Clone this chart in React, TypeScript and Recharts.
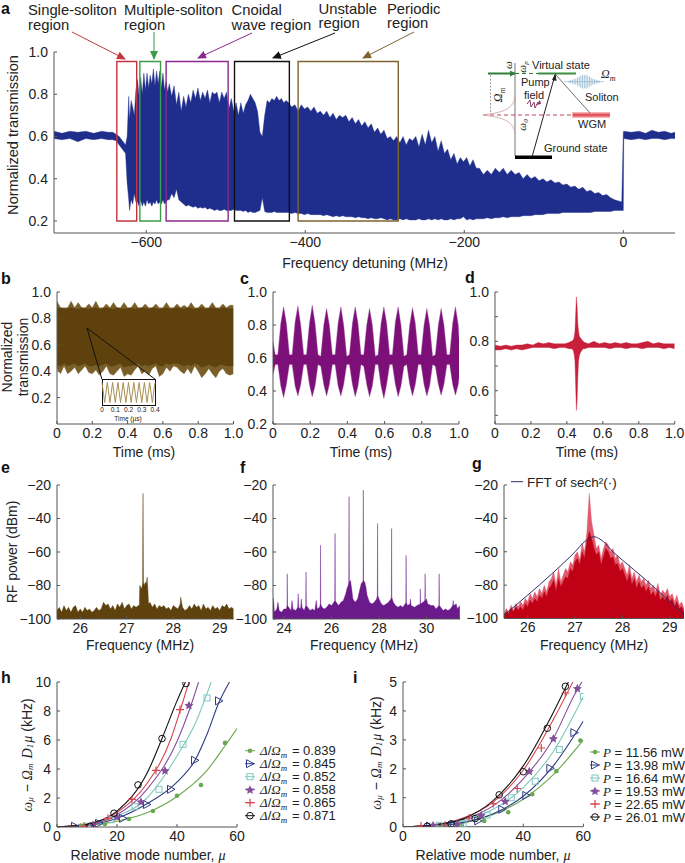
import React from 'react'
import { ComposedChart, Area, Line, Scatter, XAxis, YAxis, ReferenceArea } from 'recharts'

const FONT = '"Liberation Sans", Arial, sans-serif'
const SERIF = '"Liberation Serif", serif'

// panel a
const aFreq = [
  -716, -706, -696, -686, -676, -666, -656, -648, -642, -638,
  -634, -630, -626, -624, -622, -621, -619, -617, -615, -613,
  -611, -609, -607, -605, -603, -601, -599, -597, -595, -593,
  -591, -589, -587, -585, -583, -581, -579, -577, -575, -573,
  -571, -568, -565, -562, -559, -556, -553, -550, -547, -544,
  -541, -538, -535, -532, -529, -526, -523, -520, -517, -514,
  -511, -508, -505, -502, -499, -496, -493, -490, -487, -484,
  -481, -478, -475, -472, -469, -466, -463, -460, -457, -454,
  -451, -448, -445, -442, -439, -436, -433, -430, -427, -424,
  -421, -417, -413, -409, -405, -401, -397, -393, -389, -385,
  -381, -377, -373, -369, -365, -361, -357, -353, -349, -345,
  -341, -337, -333, -329, -325, -321, -317, -313, -309, -305,
  -301, -297, -293, -289, -285, -281, -277, -273, -269, -265,
  -261, -257, -253, -249, -245, -241, -237, -233, -229, -225,
  -221, -217, -213, -209, -205, -201, -197, -193, -189, -185,
  -181, -176, -171, -166, -161, -156, -151, -146, -141, -136,
  -131, -126, -121, -116, -111, -106, -101, -96, -91, -86,
  -81, -76, -71, -66, -61, -56, -51, -46, -41, -36,
  -31, -26, -21, -16, -11, -6, -2, 0, 0.5, 10,
  20, 28, 36, 44, 52, 60, 65,
]
const aHigh = [
  0.625, 0.615, 0.625, 0.62, 0.625, 0.615, 0.625, 0.62, 0.62, 0.61,
  0.6, 0.58, 0.56, 0.6, 0.79, 0.68, 0.77, 0.74, 0.7, 0.82,
  0.87, 0.79, 0.88, 0.8, 0.9, 0.82, 0.9, 0.83, 0.89, 0.85,
  0.92, 0.84, 0.91, 0.85, 0.91, 0.83, 0.9, 0.82, 0.86, 0.81,
  0.85, 0.79, 0.84, 0.75, 0.81, 0.72, 0.79, 0.74, 0.8, 0.76,
  0.82, 0.78, 0.83, 0.77, 0.81, 0.78, 0.82, 0.76, 0.81, 0.8,
  0.81, 0.76, 0.81, 0.78, 0.81, 0.73, 0.78, 0.72, 0.76, 0.7,
  0.76, 0.71, 0.75, 0.77, 0.8, 0.78, 0.76, 0.72, 0.62, 0.6,
  0.7, 0.77, 0.76, 0.78, 0.77, 0.79, 0.77, 0.78, 0.76, 0.77,
  0.76, 0.74, 0.75, 0.72, 0.75, 0.73, 0.74, 0.72, 0.74, 0.71,
  0.72, 0.7, 0.72, 0.69, 0.71, 0.68, 0.7, 0.69, 0.7, 0.67,
  0.69, 0.66, 0.68, 0.65, 0.67, 0.64, 0.66, 0.62, 0.64, 0.61,
  0.63, 0.59, 0.6, 0.58, 0.6, 0.57, 0.6, 0.56, 0.59, 0.58,
  0.6, 0.55, 0.61, 0.56, 0.63, 0.57, 0.6, 0.53, 0.58, 0.52,
  0.54, 0.49, 0.52, 0.47, 0.5, 0.48, 0.5, 0.46, 0.49, 0.45,
  0.45, 0.42, 0.44, 0.42, 0.45, 0.43, 0.45, 0.42, 0.44, 0.42,
  0.43, 0.4, 0.42, 0.4, 0.41, 0.39, 0.4, 0.385, 0.395, 0.38,
  0.385, 0.37, 0.375, 0.36, 0.365, 0.35, 0.36, 0.34, 0.345, 0.33,
  0.335, 0.32, 0.325, 0.31, 0.3, 0.295, 0.29, 0.62, 0.625, 0.62,
  0.625, 0.615, 0.63, 0.62, 0.625, 0.615, 0.62,
]
const aLow = [
  0.59, 0.585, 0.59, 0.575, 0.59, 0.585, 0.59, 0.585, 0.585, 0.58,
  0.56, 0.54, 0.52, 0.38, 0.3, 0.25, 0.3, 0.28, 0.33, 0.29,
  0.29, 0.27, 0.3, 0.27, 0.29, 0.27, 0.3, 0.28, 0.29, 0.27,
  0.29, 0.28, 0.3, 0.28, 0.29, 0.28, 0.3, 0.28, 0.29, 0.3,
  0.3, 0.33, 0.31, 0.35, 0.3, 0.29, 0.28, 0.27, 0.275, 0.27,
  0.265, 0.27, 0.26, 0.265, 0.26, 0.265, 0.255, 0.26, 0.255, 0.25,
  0.255, 0.25, 0.25, 0.255, 0.25, 0.25, 0.25, 0.255, 0.25, 0.25,
  0.25, 0.245, 0.25, 0.24, 0.245, 0.24, 0.24, 0.245, 0.25, 0.31,
  0.245, 0.24, 0.24, 0.24, 0.245, 0.24, 0.24, 0.24, 0.24, 0.24,
  0.24, 0.235, 0.24, 0.235, 0.235, 0.23, 0.235, 0.23, 0.23, 0.23,
  0.23, 0.225, 0.23, 0.225, 0.22, 0.225, 0.22, 0.225, 0.22, 0.22,
  0.22, 0.215, 0.22, 0.215, 0.215, 0.21, 0.215, 0.21, 0.21, 0.215,
  0.21, 0.205, 0.21, 0.205, 0.205, 0.21, 0.205, 0.21, 0.205, 0.205,
  0.205, 0.21, 0.205, 0.205, 0.21, 0.205, 0.21, 0.205, 0.21, 0.205,
  0.205, 0.21, 0.205, 0.21, 0.21, 0.22, 0.205, 0.21, 0.205, 0.21,
  0.21, 0.21, 0.215, 0.21, 0.215, 0.215, 0.22, 0.215, 0.22, 0.22,
  0.22, 0.225, 0.225, 0.225, 0.23, 0.23, 0.23, 0.235, 0.235, 0.235,
  0.235, 0.24, 0.24, 0.24, 0.24, 0.24, 0.24, 0.24, 0.24, 0.245,
  0.245, 0.245, 0.245, 0.245, 0.25, 0.25, 0.25, 0.25, 0.59, 0.585,
  0.59, 0.585, 0.59, 0.59, 0.585, 0.59, 0.59,
]
const aRegions = [
  { from: -637, to: -612, color: '#c5343c' },
  { from: -608, to: -582, color: '#3f9a4a' },
  { from: -575, to: -497, color: '#8a2a8c' },
  { from: -489, to: -420, color: '#111111' },
  { from: -409, to: -283, color: '#7d6430' },
]

// panel b
const bTime = [
  0, 0.02, 0.04, 0.06, 0.08, 0.1, 0.12, 0.14, 0.16, 0.18,
  0.2, 0.22, 0.24, 0.26, 0.28, 0.3, 0.32, 0.34, 0.36, 0.38,
  0.4, 0.42, 0.44, 0.46, 0.48, 0.5, 0.52, 0.54, 0.56, 0.58,
  0.6, 0.62, 0.64, 0.66, 0.68, 0.7, 0.72, 0.74, 0.76, 0.78,
  0.8, 0.82, 0.84, 0.86, 0.88, 0.9, 0.92, 0.94, 0.96, 0.98,
  1,
]
const bHigh = [
  0.93, 0.88, 0.88, 0.88, 0.93, 0.88, 0.92, 0.88, 0.88, 0.91,
  0.88, 0.93, 0.88, 0.88, 0.91, 0.88, 0.92, 0.88, 0.88, 0.92,
  0.88, 0.88, 0.92, 0.88, 0.88, 0.91, 0.88, 0.88, 0.91, 0.88,
  0.88, 0.92, 0.88, 0.88, 0.91, 0.88, 0.9, 0.88, 0.92, 0.88,
  0.88, 0.91, 0.88, 0.88, 0.92, 0.88, 0.88, 0.91, 0.88, 0.9,
  0.9,
]
const bLow = [
  0.42, 0.38, 0.44, 0.38, 0.4, 0.43, 0.38, 0.41, 0.44, 0.39,
  0.38, 0.41, 0.37, 0.4, 0.44, 0.38, 0.37, 0.4, 0.43, 0.36,
  0.38, 0.37, 0.41, 0.44, 0.38, 0.4, 0.37, 0.42, 0.44, 0.36,
  0.38, 0.43, 0.4, 0.44, 0.43, 0.4, 0.38, 0.42, 0.38, 0.44,
  0.4, 0.35, 0.38, 0.42, 0.38, 0.35, 0.4, 0.42, 0.38, 0.37,
  0.38,
]
const bCoreHigh = [
  0.875, 0.88, 0.87, 0.875, 0.88, 0.875, 0.87, 0.88, 0.875, 0.87,
  0.875, 0.88, 0.87, 0.875, 0.88, 0.875, 0.87, 0.88, 0.875, 0.87,
  0.875, 0.88, 0.87, 0.875, 0.88, 0.875, 0.87, 0.88, 0.875, 0.87,
  0.875, 0.88, 0.87, 0.875, 0.88, 0.875, 0.87, 0.88, 0.875, 0.87,
  0.875, 0.88, 0.87, 0.875, 0.88, 0.875, 0.87, 0.88, 0.875, 0.87,
  0.875,
]
const bCoreLow = [
  0.45, 0.44, 0.46, 0.44, 0.45, 0.46, 0.44, 0.45, 0.46, 0.44,
  0.44, 0.45, 0.44, 0.45, 0.46, 0.44, 0.44, 0.45, 0.46, 0.43,
  0.44, 0.44, 0.45, 0.46, 0.44, 0.45, 0.44, 0.45, 0.46, 0.44,
  0.44, 0.46, 0.45, 0.46, 0.46, 0.45, 0.44, 0.45, 0.44, 0.46,
  0.45, 0.43, 0.44, 0.45, 0.44, 0.43, 0.45, 0.45, 0.44, 0.44,
  0.44,
]
const insetTime = [
  0, 0.02, 0.04, 0.06, 0.08, 0.1, 0.12, 0.14, 0.16, 0.18, 0.2,
  0.22, 0.24, 0.26, 0.28, 0.3, 0.32, 0.34, 0.36, 0.38, 0.4,
]
const insetValue = [
  0.9, 0.1, 0.9, 0.1, 0.9, 0.1, 0.9, 0.1, 0.9, 0.1, 0.9,
  0.1, 0.9, 0.1, 0.9, 0.1, 0.9, 0.1, 0.9, 0.1, 0.9,
]

// panel c
const cTime = [
  0, 0.012,
  0.026, 0.042, 0.057, 0.072, 0.088,
  0.103, 0.119, 0.134, 0.149, 0.165,
  0.18, 0.196, 0.211, 0.226, 0.242,
  0.257, 0.273, 0.288, 0.303, 0.319,
  0.334, 0.35, 0.365, 0.38, 0.396,
  0.411, 0.427, 0.442, 0.457, 0.473,
  0.488, 0.504, 0.519, 0.534, 0.55,
  0.565, 0.581, 0.596, 0.611, 0.627,
  0.642, 0.658, 0.673, 0.688, 0.704,
  0.719, 0.735, 0.75, 0.765, 0.781,
  0.796, 0.812, 0.827, 0.842, 0.858,
  0.873, 0.889, 0.904, 0.919, 0.935,
  0.95, 0.966, 0.981, 0.996, 1,
]
const cHigh = [
  0.7, 0.62,
  0.62, 0.81, 0.91, 0.81, 0.62,
  0.62, 0.82, 0.915, 0.8, 0.62,
  0.62, 0.81, 0.92, 0.81, 0.62,
  0.61, 0.8, 0.9, 0.8, 0.62,
  0.62, 0.81, 0.91, 0.8, 0.61,
  0.62, 0.81, 0.91, 0.81, 0.62,
  0.62, 0.8, 0.9, 0.8, 0.61,
  0.62, 0.81, 0.91, 0.81, 0.62,
  0.62, 0.82, 0.91, 0.8, 0.61,
  0.62, 0.8, 0.905, 0.81, 0.62,
  0.62, 0.8, 0.9, 0.8, 0.61,
  0.62, 0.8, 0.9, 0.8, 0.62,
  0.62, 0.81, 0.91, 0.8, 0.72,
]
const cLow = [
  0.5, 0.56,
  0.56, 0.43, 0.36, 0.44, 0.56,
  0.56, 0.43, 0.37, 0.44, 0.56,
  0.56, 0.44, 0.365, 0.43, 0.56,
  0.55, 0.44, 0.37, 0.44, 0.56,
  0.56, 0.43, 0.37, 0.44, 0.56,
  0.56, 0.44, 0.365, 0.43, 0.56,
  0.55, 0.44, 0.365, 0.43, 0.56,
  0.56, 0.43, 0.355, 0.44, 0.56,
  0.56, 0.44, 0.365, 0.43, 0.55,
  0.56, 0.44, 0.37, 0.44, 0.56,
  0.56, 0.44, 0.37, 0.43, 0.56,
  0.55, 0.44, 0.375, 0.44, 0.56,
  0.56, 0.44, 0.375, 0.44, 0.48,
]

// panel d
const dTime = [
  0, 0.03, 0.06, 0.09, 0.12, 0.15, 0.18, 0.21, 0.24, 0.27,
  0.3, 0.33, 0.36, 0.39, 0.41, 0.425, 0.435, 0.44, 0.445, 0.449,
  0.453, 0.457, 0.461, 0.465, 0.47, 0.48, 0.49, 0.5, 0.52, 0.55,
  0.58, 0.61, 0.64, 0.67, 0.7, 0.73, 0.76, 0.79, 0.82, 0.85,
  0.88, 0.91, 0.94, 0.97, 1,
]
const dHigh = [
  0.785, 0.78, 0.785, 0.78, 0.785, 0.785, 0.79, 0.785, 0.795, 0.79,
  0.795, 0.79, 0.79, 0.79, 0.795, 0.8, 0.805, 0.815, 0.84, 0.91,
  0.98, 0.94, 0.87, 0.84, 0.82, 0.81, 0.8, 0.795, 0.79, 0.8,
  0.79, 0.795, 0.79, 0.795, 0.79, 0.795, 0.79, 0.79, 0.795, 0.8,
  0.79, 0.795, 0.79, 0.79, 0.79,
]
const dLow = [
  0.765, 0.765, 0.77, 0.765, 0.77, 0.765, 0.77, 0.775, 0.775, 0.775,
  0.775, 0.77, 0.775, 0.775, 0.77, 0.77, 0.765, 0.75, 0.72, 0.62,
  0.52, 0.56, 0.66, 0.72, 0.745, 0.76, 0.77, 0.77, 0.775, 0.775,
  0.775, 0.775, 0.77, 0.775, 0.775, 0.77, 0.775, 0.775, 0.77, 0.775,
  0.775, 0.775, 0.77, 0.775, 0.77,
]

// panel e
const eFreq = [
  25.5, 25.55, 25.6, 25.65, 25.7, 25.75, 25.8, 25.85, 25.9, 25.95,
  26, 26.05, 26.1, 26.15, 26.2, 26.25, 26.3, 26.35, 26.4, 26.45,
  26.5, 26.55, 26.6, 26.65, 26.7, 26.75, 26.8, 26.85, 26.9, 26.95,
  27, 27.05, 27.1, 27.15, 27.2, 27.25, 27.27, 27.28, 27.3, 27.32,
  27.34, 27.35, 27.36, 27.38, 27.4, 27.42, 27.44, 27.45, 27.47, 27.5,
  27.55, 27.6, 27.65, 27.7, 27.75, 27.8, 27.85, 27.9, 27.95, 28,
  28.05, 28.1, 28.15, 28.16, 28.2, 28.25, 28.3, 28.35, 28.4, 28.45,
  28.5, 28.55, 28.6, 28.65, 28.7, 28.75, 28.8, 28.85, 28.9, 28.95,
  29, 29.05, 29.1, 29.15, 29.2, 29.25, 29.3,
]
const ePower = [
  -95, -93, -96, -92, -95, -93, -96, -93, -92, -96,
  -94, -96, -93, -95, -94, -96, -95, -93, -95, -94,
  -90, -92, -91, -94, -92, -95, -91, -93, -90, -94,
  -92, -91, -94, -92, -93, -92, -92, -80, -81, -82,
  -79, -25, -78, -80, -78, -79, -75, -80, -91, -90,
  -93, -91, -94, -92, -93, -92, -94, -93, -95, -92,
  -93, -94, -91, -87, -93, -95, -94, -92, -94, -91,
  -93, -92, -95, -91, -94, -93, -95, -92, -94, -93,
  -95, -92, -93, -91, -94, -93, -94,
]

// panel f
const fFreq = [
  23.5, 23.56, 23.6, 23.7, 23.75, 23.8, 23.9, 24, 24.1, 24.13,
  24.14, 24.15, 24.2, 24.3, 24.34, 24.38, 24.5, 24.58, 24.6, 24.62,
  24.7, 24.73, 24.76, 24.85, 24.92, 24.93, 24.94, 25, 25.1, 25.2,
  25.3, 25.36, 25.4, 25.5, 25.53, 25.54, 25.55, 25.6, 25.7, 25.8,
  25.9, 26, 26.1, 26.14, 26.15, 26.16, 26.2, 26.3, 26.4, 26.5,
  26.6, 26.65, 26.7, 26.73, 26.74, 26.75, 26.8, 26.85, 26.9, 27,
  27.1, 27.2, 27.25, 27.3, 27.33, 27.34, 27.35, 27.4, 27.45, 27.5,
  27.6, 27.7, 27.8, 27.9, 27.93, 27.94, 27.95, 28, 28.1, 28.2,
  28.3, 28.4, 28.5, 28.52, 28.53, 28.54, 28.6, 28.7, 28.8, 28.9,
  29, 29.1, 29.13, 29.14, 29.15, 29.2, 29.3, 29.32, 29.35, 29.5,
  29.6, 29.73, 29.74, 29.75, 29.85, 29.93, 29.94, 29.95, 30, 30.05,
  30.2, 30.3, 30.4, 30.52, 30.53, 30.54, 30.7, 30.8, 30.9, 31,
  31.1, 31.12, 31.14, 31.25, 31.3, 31.4,
]
const fPower = [
  -87, -88, -96, -94, -90, -95, -96, -94, -94, -92,
  -73, -92, -93, -95, -89, -94, -95, -93, -85, -93,
  -94, -88, -93, -95, -92, -72, -92, -93, -95, -94,
  -95, -89, -94, -93, -91, -56, -91, -93, -94, -93,
  -91, -92, -90, -89, -49, -89, -90, -92, -90, -89,
  -85, -82, -80, -78, -27, -78, -77, -82, -88, -90,
  -88, -82, -79, -78, -77, -23, -77, -78, -81, -86,
  -90, -91, -90, -88, -86, -43, -86, -88, -91, -92,
  -91, -90, -88, -87, -46, -87, -90, -92, -93, -92,
  -93, -91, -90, -62, -90, -92, -91, -88, -92, -93,
  -92, -91, -82, -91, -90, -89, -73, -89, -88, -91,
  -92, -92, -94, -92, -73, -92, -95, -94, -95, -94,
  -92, -89, -92, -91, -94, -92,
]

// panel g
const gFreq = [
  25.5, 25.55, 25.6, 25.65, 25.7, 25.75, 25.8, 25.85, 25.9, 25.95,
  26, 26.05, 26.1, 26.15, 26.2, 26.25, 26.3, 26.35, 26.4, 26.45,
  26.5, 26.55, 26.6, 26.65, 26.7, 26.75, 26.8, 26.85, 26.9, 26.95,
  27, 27.05, 27.1, 27.15, 27.2, 27.25, 27.3, 27.35, 27.4, 27.45,
  27.5, 27.55, 27.6, 27.65, 27.7, 27.75, 27.8, 27.85, 27.9, 27.95,
  28, 28.05, 28.1, 28.15, 28.2, 28.25, 28.3, 28.35, 28.4, 28.45,
  28.5, 28.55, 28.6, 28.65, 28.7, 28.75, 28.8, 28.85, 28.9, 28.95,
  29, 29.05, 29.1, 29.15, 29.2, 29.25, 29.3,
]
const gPeak = [
  -97, -94, -96, -92, -95, -91, -93, -90, -92, -88,
  -90, -85, -88, -84, -87, -82, -85, -80, -84, -78,
  -76, -72, -80, -70, -78, -74, -70, -72, -66, -68,
  -62, -60, -65, -55, -60, -48, -25, -42, -50, -58,
  -56, -64, -58, -54, -56, -60, -58, -64, -62, -68,
  -66, -70, -74, -68, -76, -72, -78, -74, -78, -76,
  -80, -77, -82, -80, -84, -79, -86, -83, -85, -82,
  -87, -85, -90, -86, -92, -90, -94,
]
const gCore = [
  -98, -96, -97, -94, -96, -93, -95, -93, -95, -91,
  -93, -89, -91, -88, -90, -86, -88, -84, -87, -82,
  -80, -77, -84, -76, -81, -78, -75, -76, -70, -72,
  -66, -64, -68, -60, -64, -54, -48, -52, -58, -62,
  -60, -68, -63, -58, -60, -64, -63, -68, -67, -72,
  -70, -74, -78, -73, -80, -76, -82, -78, -82, -80,
  -84, -81, -86, -84, -87, -83, -89, -87, -89, -86,
  -90, -88, -93, -90, -94, -93, -96,
]
const gFftFreq = [25.5, 26, 26.5, 27, 27.2, 27.3, 27.4, 27.5, 27.6, 27.8, 28, 28.5, 29, 29.3]
const gFftPower = [-98, -86, -73.5, -60, -54, -52, -51, -52, -54, -60, -65, -77, -90, -98]

// panel h
const hLabels = ['0.839', '0.845', '0.852', '0.858', '0.865', '0.871']
const hCurveX = [
  [0, 10, 20, 30, 40, 50, 56, 60],
  [0, 10, 20, 30, 40, 46, 50, 54, 57.5],
  [0, 10, 20, 30, 40, 46, 51.4],
  [0, 10, 20, 30, 40, 44, 47.2],
  [0, 10, 20, 30, 38, 41, 44],
  [0, 10, 20, 30, 35, 40, 42.8],
]
const hCurveY = [
  [0, 0.1, 0.4, 0.98, 2.1, 3.9, 5.6, 6.8],
  [0, 0.12, 0.6, 1.6, 3.1, 4.6, 6.4, 8.6, 10],
  [0, 0.15, 0.75, 2, 4.9, 7.1, 10],
  [0, 0.15, 0.85, 2.6, 5.9, 8, 10],
  [0, 0.2, 1, 3, 6.1, 8, 10],
  [0, 0.2, 1.1, 3.7, 6.1, 8.7, 10],
]
const hPointX = [
  [8, 16, 24, 32, 40, 48, 56],
  [6, 14, 22, 30, 38, 46, 54],
  [10, 18, 26, 34, 42, 50],
  [12, 20, 28, 36, 44],
  [9, 17, 25, 33, 41],
  [11, 19, 27, 35, 43],
]
const hPointY = [
  [0.1, 0.2, 0.55, 1.1, 2.15, 2.9, 5.8],
  [0.05, 0.25, 0.6, 1.55, 2.6, 4.6, 8.7],
  [0.05, 0.5, 1.4, 2.6, 5.7, 8.9],
  [0.15, 0.7, 1.75, 3.9, 8.4],
  [0.05, 0.6, 1.9, 3.9, 8.1],
  [0.05, 0.95, 2.9, 6.1, 9.9],
]

// panel i
const iLabels = ['11.56', '13.98', '16.64', '19.53', '22.65', '26.01']
const iCurveX = [
  [0, 10, 20, 30, 40, 50, 60],
  [0, 10, 20, 30, 40, 50, 60],
  [0, 10, 20, 30, 40, 50, 60],
  [0, 10, 20, 30, 40, 50, 57, 59.5],
  [0, 10, 20, 30, 40, 50, 56.5],
  [0, 10, 20, 30, 40, 50, 55],
]
const iCurveY = [
  [0, 0.02, 0.12, 0.42, 0.95, 1.8, 3],
  [0, 0.03, 0.15, 0.45, 1.05, 2.1, 3.65],
  [0, 0.04, 0.2, 0.6, 1.35, 2.6, 4.5],
  [0, 0.05, 0.25, 0.72, 1.65, 3.05, 4.55, 5],
  [0, 0.06, 0.3, 0.85, 1.95, 3.7, 5],
  [0, 0.06, 0.27, 0.9, 2.1, 3.95, 5],
]
const iPointX = [
  [11, 19, 27, 35, 43, 51, 59],
  [9, 17, 25, 33, 41, 49, 57],
  [12, 20, 28, 36, 44, 52, 60],
  [10, 18, 26, 34, 42, 50, 58],
  [6, 14, 22, 30, 38, 46, 54],
  [8, 16, 24, 32, 40, 48, 54],
]
const iPointY = [
  [0.02, 0.05, 0.2, 0.5, 1.12, 1.92, 2.98],
  [0.02, 0.05, 0.2, 0.6, 1.08, 2.02, 3.25],
  [0.05, 0.1, 0.4, 1, 1.57, 2.67, 4.5],
  [0.05, 0.1, 0.4, 0.88, 1.92, 3.05, 4.78],
  [0.02, 0.05, 0.3, 0.8, 1.32, 2.72, 4.62],
  [0.01, 0.1, 0.28, 1.1, 1.9, 3.4, 4.85],
]

const seriesColors = ['#6aa84f', '#2f3b86', '#7fc8bd', '#84509c', '#d8434f', '#111111']
const markerKinds = ['dot', 'tri', 'square', 'star', 'plus', 'ring']

const pairs = (xs: number[], ys: number[]) => xs.map((x, i) => ({ x, y: ys[i] }))
const oneDecimal = (v: number) => (v === 0 ? '0' : v.toFixed(1))
const minus = (v: number) => String(v).replace('-', '\u2212')

function Marker({ kind, cx, cy, color }: { kind: string; cx: number; cy: number; color: string }) {
  if (kind === 'tri') {
    return <path d={`M${cx - 3.5} ${cy - 4}L${cx + 4} ${cy}L${cx - 3.5} ${cy + 4}Z`} fill="none" stroke={color} strokeWidth={1} />
  }
  if (kind === 'square') {
    return <rect x={cx - 3} y={cy - 3} width={6} height={6} fill="none" stroke={color} strokeWidth={1} />
  }
  if (kind === 'ring') {
    return <circle cx={cx} cy={cy} r={3.3} fill="none" stroke={color} strokeWidth={1} />
  }
  if (kind === 'plus') {
    return <path d={`M${cx - 4} ${cy}H${cx + 4}M${cx} ${cy - 4}V${cy + 4}`} stroke={color} strokeWidth={1.2} />
  }
  if (kind === 'star') {
    return <path d={`M${cx} ${cy - 4.5}L${cx + 1.4} ${cy - 1.4}L${cx + 4.5} ${cy - 1}L${cx + 2.2} ${cy + 1.2}L${cx + 2.8} ${cy + 4.2}L${cx} ${cy + 2.6}L${cx - 2.8} ${cy + 4.2}L${cx - 2.2} ${cy + 1.2}L${cx - 4.5} ${cy - 1}L${cx - 1.4} ${cy - 1.4}Z`} fill={color} />
  }
  return <circle cx={cx} cy={cy} r={2.3} fill={color} />
}

type PanelProps = {
  left: number
  top: number
  w: number
  h: number
  xDomain: number[]
  yDomain: number[]
  xTicks: number[]
  yTicks: number[]
  data?: any[]
  xFmt?: (v: number) => string
  yFmt?: (v: number) => string
  fontSize?: number
  children: React.ReactNode
}

function Panel({ left, top, w, h, xDomain, yDomain, xTicks, yTicks, data, xFmt, yFmt, fontSize = 14, children }: PanelProps) {
  const mL = 44
  const mT = 8
  const mR = 14
  const mB = 26
  const tick = { fontSize, fill: '#222', fontFamily: FONT }
  return (
    <div style={{ position: 'absolute', left: left - mL, top: top - mT }}>
      <ComposedChart width={w + mL + mR} height={h + mT + mB} data={data} margin={{ left: 0, top: mT, right: mR, bottom: 0 }}>
        <XAxis
          type="number"
          dataKey="x"
          domain={xDomain}
          ticks={xTicks}
          interval={0}
          height={mB}
          allowDataOverflow
          tick={tick}
          tickFormatter={xFmt}
          tickSize={-3}
          tickMargin={7}
          stroke="#555"
        />
        <YAxis
          type="number"
          dataKey="y"
          domain={yDomain}
          ticks={yTicks}
          interval={0}
          width={mL}
          allowDataOverflow
          tick={tick}
          tickFormatter={yFmt}
          tickSize={-3}
          tickMargin={9}
          stroke="#555"
        />
        {children}
      </ComposedChart>
    </div>
  )
}

function FitPanel(props: {
  left: number
  top: number
  w: number
  h: number
  yMax: number
  yTicks: number[]
  curveX: number[][]
  curveY: number[][]
  pointX: number[][]
  pointY: number[][]
}) {
  const { curveX, curveY, pointX, pointY } = props
  return (
    <Panel left={props.left} top={props.top} w={props.w} h={props.h} xDomain={[0, 60]} yDomain={[0, props.yMax]} xTicks={[0, 20, 40, 60]} yTicks={props.yTicks}>
      {curveX.map((xs, i) => (
        <Line
          key={`curve-${i}`}
          data={pairs(xs, curveY[i])}
          dataKey="y"
          type="monotone"
          stroke={seriesColors[i]}
          strokeWidth={1.1}
          dot={false}
          activeDot={false}
          isAnimationActive={false}
        />
      ))}
      {pointX.map((xs, i) => (
        <Scatter
          key={`points-${i}`}
          data={pairs(xs, pointY[i])}
          isAnimationActive={false}
          shape={(p: any) => <Marker kind={markerKinds[i]} cx={p.cx} cy={p.cy} color={seriesColors[i]} />}
        />
      ))}
    </Panel>
  )
}

function Band({ dataKey, color, stroke }: { dataKey: string; color: string; stroke?: string }) {
  return (
    <Area
      dataKey={dataKey}
      type="linear"
      fill={color}
      fillOpacity={1}
      stroke={stroke || color}
      strokeWidth={0.4}
      dot={false}
      activeDot={false}
      isAnimationActive={false}
    />
  )
}

function AxisTitle({ x, y, children, rotate, size = 14 }: { x: number; y: number; children: React.ReactNode; rotate?: boolean; size?: number }) {
  return (
    <text
      x={x}
      y={y}
      fontSize={size}
      fill="#222"
      textAnchor="middle"
      dominantBaseline="central"
      transform={rotate ? `rotate(-90 ${x} ${y})` : undefined}
    >
      {children}
    </text>
  )
}

function Sub({ children, size = 9 }: { children: React.ReactNode; size?: number }) {
  return (
    <>
      <tspan dy={3} fontSize={size} fontFamily={SERIF} fontStyle="italic">{children}</tspan>
      <tspan dy={-3}>{'\u200a'}</tspan>
    </>
  )
}

function Ital({ children }: { children: React.ReactNode }) {
  return <tspan fontFamily={SERIF} fontStyle="italic">{children}</tspan>
}

const topLabels = [
  { x: 28, y: 15, gap: 14.5, lines: ['Single-soliton', 'region'] },
  { x: 124, y: 15, gap: 14.5, lines: ['Multiple-soliton', 'region'] },
  { x: 231.5, y: 15, gap: 14.5, lines: ['Cnoidal', 'wave region'] },
  { x: 318.5, y: 13.5, gap: 14, lines: ['Unstable', 'region'] },
  { x: 387, y: 13.5, gap: 14, lines: ['Periodic', 'region'] },
]
const topArrows = [
  { x1: 72, y1: 32, x2: 125, y2: 59, color: '#c5343c' },
  { x1: 154, y1: 32, x2: 154, y2: 59, color: '#3f9a4a' },
  { x1: 252, y1: 33, x2: 198, y2: 58, color: '#8a2a8c' },
  { x1: 335, y1: 33, x2: 273, y2: 58, color: '#111111' },
  { x1: 414, y1: 32, x2: 363, y2: 58, color: '#7d6430' },
]
const solitonAmp = [1, 1.5, 2, 2.5, 3, 4, 5, 6, 7, 6.5, 7, 6, 5, 4, 3, 2.5, 2, 1.5, 1]

function Overlay() {
  return (
    <svg width={685} height={863} style={{ position: 'absolute', left: 0, top: 0, pointerEvents: 'none' }} fontFamily={FONT}>
      <defs>
        {topArrows.map((a, i) => (
          <marker key={i} id={`head-${i}`} markerWidth={9} markerHeight={8} refX={8} refY={4} orient="auto" markerUnits="userSpaceOnUse">
            <path d="M0 0L9 4L0 8Z" fill={a.color} />
          </marker>
        ))}
      </defs>

      {/* panel letters */}
      {[
        ['a', 1, 14], ['b', 1, 284], ['c', 240, 284], ['d', 465, 283],
        ['e', 1, 473], ['f', 240, 473], ['g', 472, 469], ['h', 1, 683], ['i', 353, 683],
      ].map(([t, x, y]) => (
        <text key={t as string} x={x as number} y={y as number} fontSize={16} fontWeight="bold" fill="#111">{t}</text>
      ))}

      {/* region labels */}
      {topLabels.map((l) =>
        l.lines.map((line, j) => (
          <text key={line + l.x} x={l.x} y={l.y + j * l.gap} fontSize={14.8} fill="#222">{line}</text>
        )),
      )}
      {topArrows.map((a, i) => (
        <line key={i} x1={a.x1} y1={a.y1} x2={a.x2} y2={a.y2} stroke={a.color} strokeWidth={1} markerEnd={`url(#head-${i})`} />
      ))}

      {/* level diagram */}
      <g>
        <line x1={515} y1={63} x2={515} y2={156} stroke="#777" strokeWidth={1} />
        <rect x={515} y={155.5} width={37} height={3.5} fill="#000" />
        <line x1={488} y1={73.5} x2={515} y2={73.5} stroke="#2f7d3a" strokeWidth={2} />
        <path d="M510 70.5L516 73.5L510 76.5Z" fill="#2f7d3a" />
        <line x1={515} y1={73.5} x2={538} y2={73.5} stroke="#2f7d3a" strokeWidth={1} strokeDasharray="4 3" />
        <line x1={538} y1={73.5} x2={576} y2={73.5} stroke="#3e8e41" strokeWidth={2} />
        <line x1={483} y1={115} x2={574} y2={115} stroke="#c2415a" strokeWidth={1} strokeDasharray="4 3" />
        <rect x={572} y={112} width={38} height={6} fill="#f5b5b5" />
        <rect x={573} y={113.5} width={37} height={3} fill="#e2555f" />
        <line x1={490.5} y1={75} x2={490.5} y2={114} stroke="#888" strokeWidth={0.8} strokeDasharray="2 1.5" />
        <path d="M515 96C514 108 505 112 486 114.5M515 134C514 122 505 118 486 115.5" fill="none" stroke="#c9a0a0" strokeWidth={0.8} />
        <line x1={532} y1={157} x2={555} y2={75} stroke="#222" strokeWidth={1} />
        <path d="M552 80L555.5 73L556.5 81Z" fill="#222" />
        <line x1={556} y1={75} x2={590} y2={113} stroke="#6b5a5a" strokeWidth={0.9} />
        <path d="M527 104L530 100L531 107L534 102L535 108L538 102" fill="none" stroke="#8a3a60" strokeWidth={1} />
        <path d="M536 105L540 100L541 104Z" fill="#8a3a60" />
        {solitonAmp.map((a, i) => (
          <line key={i} x1={569 + i * 1.7} y1={81.7 - a} x2={569 + i * 1.7} y2={81.7 + a} stroke="#8db4cf" strokeWidth={0.8} />
        ))}
        <line x1={564} y1={81.7} x2={604} y2={81.7} stroke="#8db4cf" strokeWidth={0.6} />
        <g fontSize={11} fill="#222">
          <text x={532} y={69}>Virtual state</text>
          <text x={521} y={86}>Pump</text>
          <text x={524} y={98.5}>field</text>
          <text x={585} y={101}>Soliton</text>
          <text x={578} y={128}>WGM</text>
          <text x={544} y={152}>Ground state</text>
          <text x={601} y={78} fontSize={12} fontFamily={SERIF} fontStyle="italic">Ω<tspan dy={3} fontSize={8}>m</tspan></text>
          <g transform="rotate(-90 498 95)">
            <text x={498} y={99} textAnchor="middle" fontSize={12} fontFamily={SERIF} fontStyle="italic">Ω<tspan dy={3} fontSize={8}>m</tspan></text>
          </g>
          <g transform="rotate(-90 523 67)">
            <text x={523} y={70} textAnchor="middle" fontFamily={SERIF} fontStyle="italic">ω<tspan dy={2} fontSize={7}>p</tspan></text>
          </g>
          <g transform="rotate(-90 523 125)">
            <text x={523} y={128} textAnchor="middle" fontFamily={SERIF} fontStyle="italic">ω<tspan dy={2} fontSize={7}>0</tspan></text>
          </g>
          <g transform="rotate(-90 509 65)">
            <text x={509} y={68} textAnchor="middle" fontFamily={SERIF} fontStyle="italic">ω</text>
          </g>
        </g>
      </g>

      {/* axis titles */}
      <AxisTitle x={13} y={135} rotate size={14.6}>Normalized transmission</AxisTitle>
      <AxisTitle x={365} y={263}>Frequency detuning (MHz)</AxisTitle>
      <AxisTitle x={7} y={357} rotate>Normalized</AxisTitle>
      <AxisTitle x={23} y={357} rotate>transmission</AxisTitle>
      <AxisTitle x={144} y={451.5}>Time (ms)</AxisTitle>
      <AxisTitle x={361} y={451.5}>Time (ms)</AxisTitle>
      <AxisTitle x={587} y={451.5}>Time (ms)</AxisTitle>
      <AxisTitle x={12} y={552} rotate>RF power (dBm)</AxisTitle>
      <AxisTitle x={140} y={645}>Frequency (MHz)</AxisTitle>
      <AxisTitle x={364} y={645}>Frequency (MHz)</AxisTitle>
      <AxisTitle x={594} y={645}>Frequency (MHz)</AxisTitle>
      <AxisTitle x={148} y={855}>Relative mode number, <Ital>μ</Ital></AxisTitle>
      <AxisTitle x={493} y={855}>Relative mode number, <Ital>μ</Ital></AxisTitle>
      <AxisTitle x={27} y={755} rotate>
        <Ital>ω</Ital><Sub>μ</Sub> − <Ital>Ω</Ital><Sub>m</Sub> <Ital>D</Ital><Sub>1</Sub><Ital>μ</Ital> (kHz)
      </AxisTitle>
      <AxisTitle x={376} y={753} rotate>
        <Ital>ω</Ital><Sub>μ</Sub> − <Ital>Ω</Ital><Sub>m</Sub> <Ital>D</Ital><Sub>1</Sub><Ital>μ</Ital> (kHz)
      </AxisTitle>

      {/* inset axis text */}
      <text x={128} y={420.5} fontSize={6.5} fill="#222" textAnchor="middle">Time (µs)</text>
      <line x1={87} y1={328} x2={102} y2={379.5} stroke="#111" strokeWidth={1} />
      <line x1={87} y1={328} x2={155.5} y2={379.5} stroke="#111" strokeWidth={1} />

      {/* panel g legend */}
      <line x1={511} y1={481.7} x2={523} y2={481.7} stroke="#2b2d6e" strokeWidth={1} />
      <text x={527} y={486.5} fontSize={13.5} fill="#222">FFT of sech²(·)</text>

      {/* legends */}
      {hLabels.map((t, i) => {
        const y = 750.7 + i * 13
        return (
          <g key={t}>
            <line x1={245} y1={y} x2={255} y2={y} stroke={seriesColors[i]} strokeWidth={1} />
            <Marker kind={markerKinds[i]} cx={250} cy={y} color={seriesColors[i]} />
            <text x={260} y={y + 4.5} fontSize={13} fill="#222">
              <Ital>Δ</Ital>/<Ital>Ω</Ital><Sub>m</Sub> = {t}
            </text>
          </g>
        )
      })}
      {iLabels.map((t, i) => {
        const y = 752 + i * 13
        return (
          <g key={t}>
            <line x1={590} y1={y} x2={600} y2={y} stroke={seriesColors[i]} strokeWidth={1} />
            <Marker kind={markerKinds[i]} cx={595} cy={y} color={seriesColors[i]} />
            <text x={603} y={y + 4.5} fontSize={13} fill="#222">
              <Ital>P</Ital> = {t} mW
            </text>
          </g>
        )
      })}
    </svg>
  )
}

const aRows = aFreq.map((x, i) => ({ x, range: [aLow[i], aHigh[i]] }))
const bRows = bTime.map((x, i) => ({ x, outer: [bLow[i], bHigh[i]], core: [bCoreLow[i], bCoreHigh[i]] }))
const cRows = cTime.map((x, i) => ({ x, range: [cLow[i], cHigh[i]] }))
const dRows = dTime.map((x, i) => ({ x, range: [dLow[i], dHigh[i]] }))
const eRows = eFreq.map((x, i) => ({ x, range: [-100, ePower[i]] }))
const fRows = fFreq.map((x, i) => ({ x, range: [-100, fPower[i]] }))
const gRows = gFreq.map((x, i) => ({ x, peak: [-100, gPeak[i]], core: [-100, gCore[i]] }))
const insetRows = pairs(insetTime, insetValue)

export default function App() {
  return (
    <div style={{ position: 'absolute', left: 0, top: 0, width: 685, height: 863, background: '#fff', fontFamily: FONT }}>
      <Panel
        left={54}
        top={52}
        w={621}
        h={181}
        xDomain={[-716, 65]}
        yDomain={[0.143, 1]}
        xTicks={[-600, -400, -200, 0]}
        yTicks={[0.2, 0.4, 0.6, 0.8, 1]}
        data={aRows}
        xFmt={minus}
        yFmt={oneDecimal}
      >
        <Band dataKey="range" color="#1f2e8c" />
        {aRegions.map((r) => (
          <ReferenceArea key={r.from} x1={r.from} x2={r.to} y1={0.2} y2={0.955} fill="none" stroke={r.color} strokeWidth={1.4} ifOverflow="visible" />
        ))}
      </Panel>

      <Panel left={56.7} top={291.7} w={176.5} h={132} xDomain={[0, 1]} yDomain={[0, 1]} xTicks={[0, 0.2, 0.4, 0.6, 0.8, 1]} yTicks={[0.2, 0.4, 0.6, 0.8, 1]} data={bRows} xFmt={oneDecimal} yFmt={oneDecimal}>
        <Band dataKey="outer" color="#7a5f2a" />
        <Band dataKey="core" color="#5e410c" />
      </Panel>
      <div style={{ position: 'absolute', left: 101.5, top: 379, width: 54, height: 27, background: '#fff', boxSizing: 'border-box', border: '1px solid #111' }} />
      <div style={{ position: 'absolute', left: 96, top: 380 }}>
        <ComposedChart width={66} height={36} data={insetRows} margin={{ left: 6, top: 0, right: 7, bottom: 0 }}>
          <XAxis type="number" dataKey="x" domain={[0, 0.4]} ticks={[0, 0.1, 0.2, 0.3, 0.4]} interval={0} height={11} tick={{ fontSize: 6.5, fill: '#222', fontFamily: FONT }} tickSize={0} tickMargin={2} axisLine={false} />
          <YAxis type="number" domain={[0, 1]} hide />
          <Line dataKey="y" type="linear" stroke="#a98f52" strokeWidth={1} dot={false} activeDot={false} isAnimationActive={false} />
        </ComposedChart>
      </div>

      <Panel left={273.3} top={291.7} w={186} h={132} xDomain={[0, 1]} yDomain={[0.2, 1]} xTicks={[0, 0.2, 0.4, 0.6, 0.8, 1]} yTicks={[0.2, 0.4, 0.6, 0.8, 1]} data={cRows} xFmt={oneDecimal} yFmt={oneDecimal}>
        <Band dataKey="range" color="#7c0f78" stroke="#a04aa0" />
      </Panel>

      <Panel left={495.3} top={291.7} w={179.7} h={132} xDomain={[0, 1]} yDomain={[0.465, 1]} xTicks={[0, 0.2, 0.4, 0.6, 0.8, 1]} yTicks={[0.5, 0.6, 0.7, 0.8, 0.9, 1]} data={dRows} xFmt={oneDecimal} yFmt={(v) => (v === 0.6 || v === 0.8 || v === 1 ? v.toFixed(1) : '')}>
        <Band dataKey="range" color="#c8203a" />
      </Panel>

      <Panel left={57.3} top={484.5} w={176.7} h={134} xDomain={[25.5, 29.3]} yDomain={[-100, -20]} xTicks={[26, 27, 28, 29]} yTicks={[-100, -80, -60, -40, -20]} data={eRows} yFmt={minus}>
        <Band dataKey="range" color="#5e410c" />
      </Panel>

      <Panel left={272.7} top={484.5} w={187.3} h={134} xDomain={[23.54, 31.42]} yDomain={[-100, -20]} xTicks={[24, 26, 28, 30]} yTicks={[-100, -80, -60, -40, -20]} data={fRows} yFmt={minus}>
        <Band dataKey="range" color="#6a1a8a" />
      </Panel>

      <Panel left={504} top={485} w={180} h={133.5} xDomain={[25.5, 29.3]} yDomain={[-100, -20]} xTicks={[26, 27, 28, 29]} yTicks={[-100, -80, -60, -40, -20]} data={gRows} yFmt={minus}>
        <Band dataKey="peak" color="#e05a6e" />
        <Band dataKey="core" color="#c00014" />
        <Line data={pairs(gFftFreq, gFftPower)} dataKey="y" type="monotone" stroke="#2b2d6e" strokeWidth={1} dot={false} activeDot={false} isAnimationActive={false} />
      </Panel>

      <FitPanel left={57.3} top={681.7} w={180} h={145} yMax={10} yTicks={[0, 2, 4, 6, 8, 10]} curveX={hCurveX} curveY={hCurveY} pointX={hPointX} pointY={hPointY} />
      <FitPanel left={403.3} top={682.3} w={180.4} h={144.7} yMax={5} yTicks={[0, 1, 2, 3, 4, 5]} curveX={iCurveX} curveY={iCurveY} pointX={iPointX} pointY={iPointY} />

      <Overlay />
    </div>
  )
}
